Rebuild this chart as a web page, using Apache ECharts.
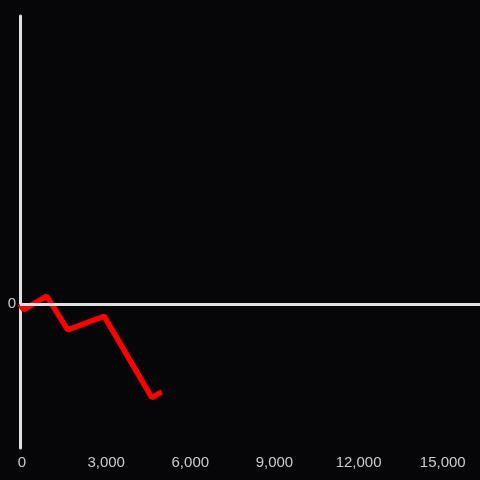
<!DOCTYPE html>
<html>
<head>
<meta charset="utf-8">
<script src="https://cdn.jsdelivr.net/npm/echarts@6/dist/echarts.min.js"></script>
<style>
html,body{margin:0;padding:0;background:#060508;}
#main{width:480px;height:480px;}
</style>
</head>
<body>
<div id="main"></div>
<script>
// 数据
var xValues = [0, 130, 950, 1700, 3000, 4700, 5050];
var yValues = [0, -4, 5.5, -18, -8.5, -65, -61];
var xTicks = [0, 3000, 6000, 9000, 12000, 15000];

var seriesData = xValues.map(function (x, i) { return [x, yValues[i]]; });

var myChart = echarts.init(document.getElementById('main'));
myChart.setOption({
    backgroundColor: '#060508',
    animation: false,
    grid: {
        left: 20,
        right: 0,
        top: 16,
        bottom: 32
    },
    xAxis: {
        type: 'value',
        min: 0,
        max: 16400,
        interval: 3000,
        axisLine: { show: false, onZero: false },
        axisTick: { show: false },
        splitLine: { show: false },
        axisLabel: {
            color: '#cccccc',
            fontFamily: 'Liberation Sans',
            fontSize: 15,
            margin: 7,
            padding: [0, 0, 0, 4],
            showMaxLabel: false,
            formatter: function (v) {
                return xTicks.indexOf(v) >= 0 ? v.toLocaleString('en-US') : '';
            }
        }
    },
    yAxis: {
        type: 'value',
        min: -100,
        max: 200,
        interval: 100,
        axisLine: {
            show: true,
            lineStyle: { color: '#e0e0e0', width: 3 }
        },
        axisTick: { show: false },
        splitLine: { show: false },
        axisLabel: {
            color: '#cccccc',
            fontFamily: 'Liberation Sans',
            fontSize: 15,
            margin: 4,
            padding: [2, 0, 0, 0],
            formatter: function (v) { return v === 0 ? '0' : ''; }
        }
    },
    series: [{
        type: 'line',
        data: seriesData,
        showSymbol: false,
        lineStyle: { color: '#ff0000', width: 5.5 },
        markLine: {
            silent: true,
            symbol: 'none',
            label: { show: false },
            lineStyle: { color: '#e0e0e0', width: 3, type: 'solid' },
            data: [{ yAxis: 0 }]
        },
        z: 3
    }]
});
</script>
</body>
</html>
